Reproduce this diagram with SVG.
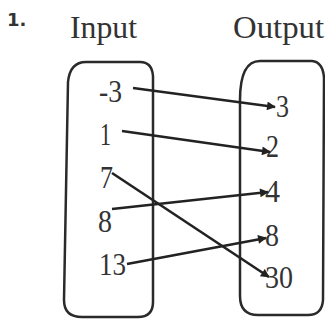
<svg xmlns="http://www.w3.org/2000/svg" width="325" height="320" viewBox="0 0 325 320">
<style>
.t{font-family:"Liberation Serif","Times New Roman",serif;fill:#333}
.n{font-size:32px}
.h{font-size:31px}
.box{fill:none;stroke:#2a2a2a;stroke-width:2.5}
.c{stroke:#222;stroke-width:2.6;fill:none;marker-end:url(#ah)}
</style>
<defs>
<marker id="ah" viewBox="0 0 10 10" refX="9" refY="5" markerWidth="4.2" markerHeight="3.4" orient="auto" markerUnits="strokeWidth">
<path d="M0,0 L10,5 L0,10 Z" fill="#222"/>
</marker>
</defs>
<rect width="325" height="320" fill="#fff"/>
<text x="7" y="26" style="font-family:'DejaVu Sans',sans-serif;font-weight:bold;font-size:18px;fill:#333">1.</text>
<text class="t h" x="70" y="38" textLength="67" lengthAdjust="spacingAndGlyphs">Input</text>
<text class="t h" x="233" y="38" textLength="91" lengthAdjust="spacingAndGlyphs">Output</text>
<g id="input">
<path class="box" d="M68,82 Q70,62 86,62 L140,62 Q152,62 153,76 L153,302 Q153,317 138,317 L82,317 Q64,317 64,300 Z"/>
<text class="t n" x="99" y="102" textLength="23" lengthAdjust="spacingAndGlyphs">-3</text>
<text class="t n" x="100" y="145" textLength="11" lengthAdjust="spacingAndGlyphs">1</text>
<text class="t n" x="100" y="188" textLength="13" lengthAdjust="spacingAndGlyphs">7</text>
<text class="t n" x="98" y="232" textLength="14" lengthAdjust="spacingAndGlyphs">8</text>
<text class="t n" x="99" y="275" textLength="27" lengthAdjust="spacingAndGlyphs">13</text>
</g>
<g id="output">
<path class="box" d="M240,100 Q240,61 260,61 L312,61 Q323,62 324,78 L323,300 Q322,315 308,315 L258,315 Q240,315 240,296 Z"/>
<text class="t n" x="276" y="117" textLength="13" lengthAdjust="spacingAndGlyphs">3</text>
<text class="t n" x="266" y="157" textLength="13" lengthAdjust="spacingAndGlyphs">2</text>
<text class="t n" x="265" y="202" textLength="15" lengthAdjust="spacingAndGlyphs">4</text>
<text class="t n" x="265" y="246" textLength="14" lengthAdjust="spacingAndGlyphs">8</text>
<text class="t n" x="265" y="288" textLength="28" lengthAdjust="spacingAndGlyphs">30</text>
</g>
<g id="connectors">
<line class="c" x1="133" y1="88" x2="275" y2="107"/>
<line class="c" x1="122" y1="131" x2="270" y2="152"/>
<line class="c" x1="112" y1="173" x2="269" y2="277"/>
<line class="c" x1="112" y1="209" x2="268" y2="192"/>
<line class="c" x1="127" y1="264" x2="266" y2="238"/>
</g>
</svg>
